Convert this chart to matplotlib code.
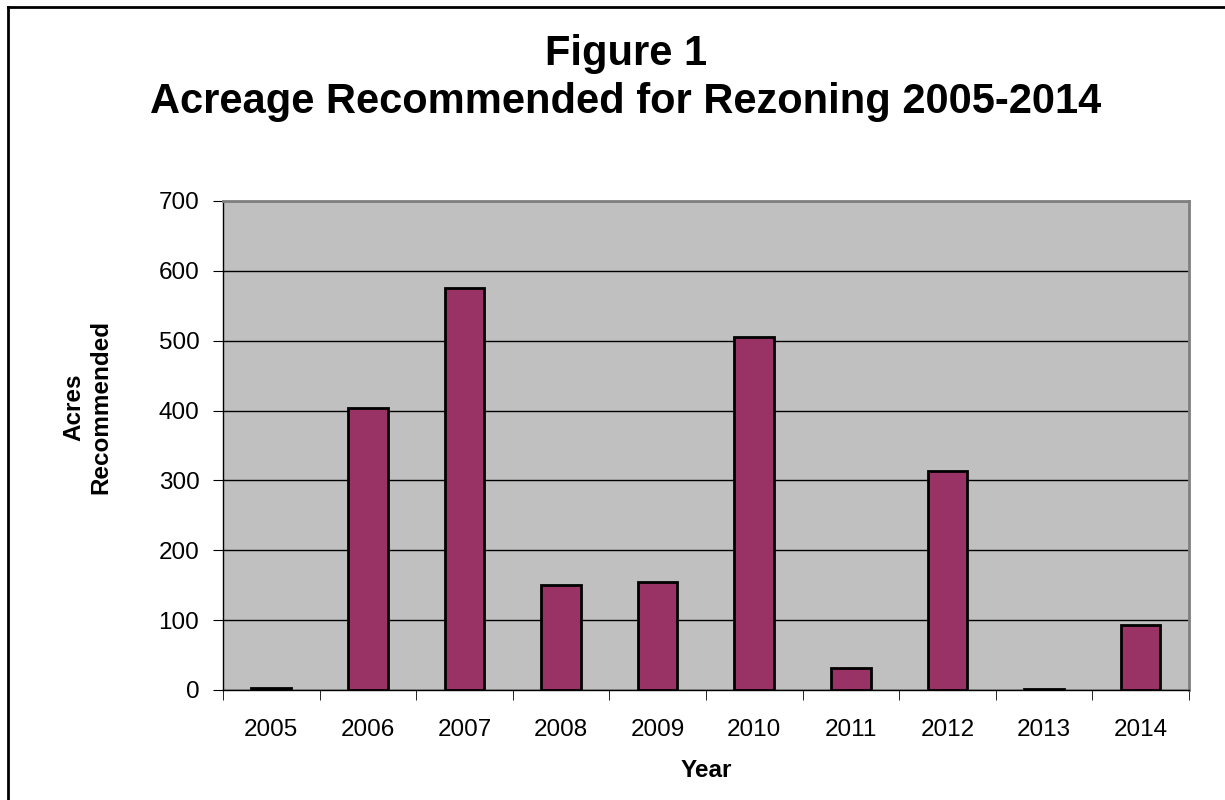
import matplotlib
matplotlib.use("Agg")
import matplotlib.pyplot as plt
import numpy as np

# data
years = ["2005", "2006", "2007", "2008", "2009", "2010", "2011", "2012", "2013", "2014"]
acres = [3, 404, 576, 151, 155, 506, 32, 313, 2, 93]

plt.rcParams["font.family"] = ["Liberation Sans", "DejaVu Sans"]

fig = plt.figure(figsize=(12.25, 8), dpi=100)
ax = fig.add_axes([0.182, 0.1375, 0.7886, 0.61125])
ax.set_facecolor("#C0C0C0")

x = np.arange(len(years))
ax.bar(x, acres, width=0.41, color="#993366", edgecolor="black", linewidth=2, zorder=3)

ax.set_xlim(-0.5, len(years) - 0.5)
ax.set_ylim(0, 700)
ax.set_yticks(np.arange(0, 701, 100))
ax.yaxis.grid(True, color="black", linewidth=1, zorder=1)
ax.set_axisbelow(True)

ax.set_xticks(x)
ax.set_xticklabels(years)
ax.set_xticks(np.arange(-0.5, len(years)), minor=True)
ax.tick_params(axis="x", which="major", length=0, labelsize=17.5, pad=21)
ax.tick_params(axis="x", which="minor", length=7, color="black", direction="out")
ax.tick_params(axis="y", length=7, color="black", labelsize=17.5, pad=10)

for s in ["left", "bottom"]:
    ax.spines[s].set_color("black")
    ax.spines[s].set_linewidth(1)
for s in ["top", "right"]:
    ax.spines[s].set_color("#808080")
    ax.spines[s].set_linewidth(2)

ax.set_xlabel("Year", fontsize=17.5, fontweight="bold", labelpad=13)
ax.set_ylabel("Acres\nRecommended", fontsize=17.5, fontweight="bold", labelpad=33,
              linespacing=1.25)
ax.yaxis.label.set_y(0.579)

fig.text(0.511, 0.933, "Figure 1", ha="center", va="center", fontsize=30, fontweight="bold")
fig.text(0.511, 0.872, "Acreage Recommended for Rezoning 2005-2014", ha="center", va="center",
         fontsize=30, fontweight="bold")

# chart border
fig.add_artist(plt.Line2D([8 / 1225, 8 / 1225], [0, 1 - 7 / 800], transform=fig.transFigure,
                          color="black", linewidth=2))
fig.add_artist(plt.Line2D([8 / 1225, 1], [1 - 7 / 800, 1 - 7 / 800], transform=fig.transFigure,
                          color="black", linewidth=2))

fig.savefig("out.png", dpi=100)
